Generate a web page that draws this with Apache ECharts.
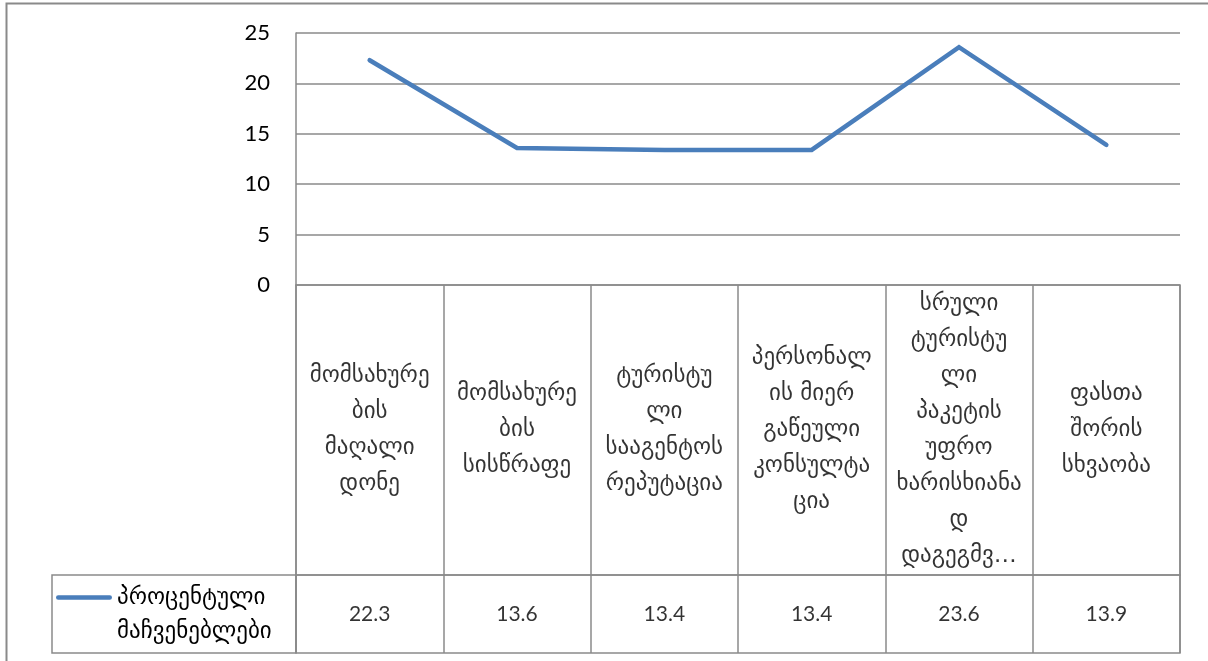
<!DOCTYPE html>
<html>
<head>
<meta charset="utf-8">
<script src="https://cdn.jsdelivr.net/npm/echarts@6/dist/echarts.min.js"></script>
<style>
  html, body { margin: 0; padding: 0; background: #fff; }
  #chart { width: 1208px; height: 661px; }
</style>
</head>
<body>
<div id="chart"></div>
<script>
// Category names, wrapped the way the table header shows them
const categories = [
  'მომსახურე\nბის\nმაღალი\nდონე',
  'მომსახურე\nბის\nსისწრაფე',
  'ტურისტუ\nლი\nსააგენტოს\nრეპუტაცია',
  'პერსონალ\nის მიერ\nგაწეული\nკონსულტა\nცია',
  'სრული\nტურისტუ\nლი\nპაკეტის\nუფრო\nხარისხიანა\nდ\nდაგეგმვ…',
  'ფასთა\nშორის\nსხვაობა'
];
const seriesName = 'პროცენტული\nმაჩვენებლები';
const values = [22.3, 13.6, 13.4, 13.4, 23.6, 13.9];
const yTicks = [0, 5, 10, 15, 20, 25];

const GRID_COLOR = '#8a8a8a';
const LINE_COLOR = '#4A7EBB';
const NUM_FONT = 'Lato, "Open Sans", sans-serif';
const KA_FONT = '"DejaVu Sans", sans-serif';

// Legend key: a bar along the top of a 56x40 box, so the key sits level with the first text line
const LEGEND_KEY = 'path://M2,0L54,0A2.25,2.25,0,0,1,54,4.5L2,4.5A2.25,2.25,0,0,1,2,0Z M27.9,40L28.1,40L28,39.95Z M0,2.25L0.01,2.25L0,2.26Z M56,2.25L55.99,2.25L56,2.26Z';

const chart = echarts.init(document.getElementById('chart'), null, { renderer: 'canvas' });

const hiddenValueAxis = (gridIndex) => ({
  type: 'value', gridIndex, min: 0, max: 1, show: false
});
const tableCatAxis = (gridIndex) => ({
  type: 'category', gridIndex, data: categories, boundaryGap: true,
  axisLine: { show: false }, axisTick: { show: false }, axisLabel: { show: false },
  splitLine: { show: true, interval: 0, lineStyle: { color: GRID_COLOR, width: 1.5 } }
});

chart.setOption({
  animation: false,
  backgroundColor: '#fff',
  graphic: [{
    type: 'rect', silent: true,
    shape: { x: 6.5, y: 3.5, width: 1300, height: 700 },
    style: { fill: null, stroke: GRID_COLOR, lineWidth: 2 }
  }],
  legend: {
    show: true,
    data: [{ name: seriesName, icon: LEGEND_KEY }],
    left: 56, top: 581, padding: 0,
    itemWidth: 56, itemHeight: 40, itemGap: 0,
    textStyle: {
      fontFamily: KA_FONT, fontSize: 23, color: '#000', lineHeight: 34
    }
  },
  grid: [
    { left: 296, top: 33, width: 884, height: 252 },                       // line plot
    { left: 296, top: 285, width: 884, height: 290, show: true,
      borderColor: GRID_COLOR, borderWidth: 1.5, backgroundColor: 'transparent' }, // header row
    { left: 296, top: 575, width: 884, height: 78, show: true,
      borderColor: GRID_COLOR, borderWidth: 1.5, backgroundColor: 'transparent' }, // value row
    { left: 52, top: 575, width: 244, height: 78, show: true,
      borderColor: GRID_COLOR, borderWidth: 1.5, backgroundColor: 'transparent' }  // legend cell
  ],
  xAxis: [
    { type: 'category', gridIndex: 0, data: categories, boundaryGap: true,
      axisLine: { show: false }, axisTick: { show: false }, axisLabel: { show: false },
      splitLine: { show: false } },
    tableCatAxis(1),
    tableCatAxis(2),
    { type: 'value', gridIndex: 3, min: 0, max: 1, show: false }
  ],
  yAxis: [
    { type: 'value', gridIndex: 0, min: yTicks[0], max: yTicks[yTicks.length - 1], interval: 5,
      axisLine: { show: true, lineStyle: { color: GRID_COLOR, width: 1.5 } },
      axisTick: { show: false },
      axisLabel: { color: '#000', fontFamily: NUM_FONT, fontSize: 22, margin: 26 },
      splitLine: { show: true, lineStyle: { color: GRID_COLOR, width: 1.5 } } },
    hiddenValueAxis(1),
    hiddenValueAxis(2),
    hiddenValueAxis(3)
  ],
  series: [
    {
      name: seriesName, type: 'line', xAxisIndex: 0, yAxisIndex: 0,
      data: values, symbol: 'none', showSymbol: false,
      lineStyle: { color: LINE_COLOR, width: 4.5, cap: 'round', join: 'miter' },
      itemStyle: { color: LINE_COLOR }
    },
    {
      // header row text
      type: 'scatter', xAxisIndex: 1, yAxisIndex: 1, symbolSize: 0, silent: true,
      data: categories.map((c, i) => [i, 0.5]),
      label: {
        show: true, position: 'inside',
        formatter: (p) => categories[p.dataIndex],
        fontFamily: KA_FONT, fontSize: 23, color: '#000', lineHeight: 36, align: 'center'
      }
    },
    {
      // value row text
      type: 'scatter', xAxisIndex: 2, yAxisIndex: 2, symbolSize: 0, silent: true,
      data: values.map((v, i) => [i, 0.5]),
      label: {
        show: true, position: 'inside',
        formatter: (p) => values[p.dataIndex].toFixed(1),
        fontFamily: NUM_FONT, fontSize: 21, color: '#000'
      }
    }
  ]
});
</script>
</body>
</html>
